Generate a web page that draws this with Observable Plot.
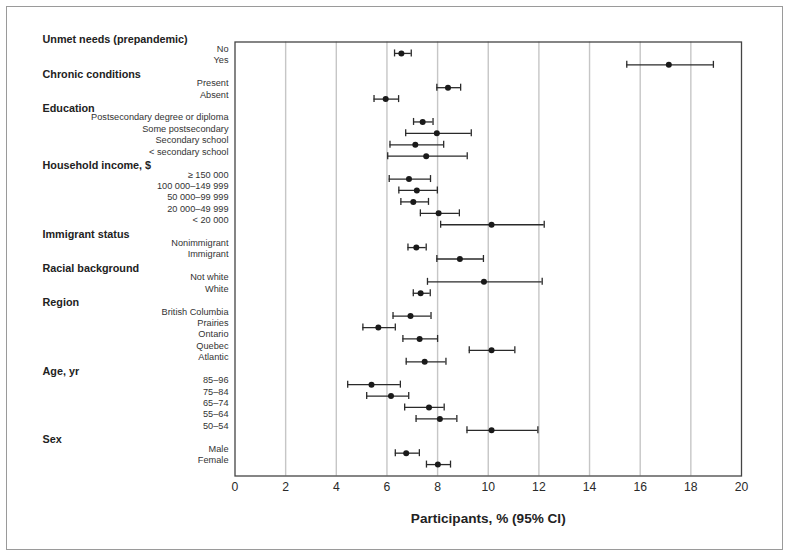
<!DOCTYPE html>
<html>
<head>
<meta charset="utf-8">
<script src="https://cdn.jsdelivr.net/npm/d3@7"></script>
<script src="https://cdn.jsdelivr.net/npm/@observablehq/plot@0.6"></script>
<style>
  html, body { margin: 0; padding: 0; background: #fff; }
  #wrap { position: relative; width: 791px; height: 559px; overflow: hidden; }
  #border { position: absolute; left: 6px; top: 6px; width: 775px; height: 542px; border: 1.5px solid #9a9a9a; pointer-events: none; }
  #chart { position: absolute; left: 0; top: 0; }
</style>
</head>
<body>
<div id="wrap"><div id="chart"></div><div id="border"></div></div>
<script>
// ---- data ----
const groupNames = [
  "Unmet needs (prepandemic)", "Chronic conditions", "Education", "Household income, $",
  "Immigrant status", "Racial background", "Region", "Age, yr", "Sex"
];
const groupSizes = [2, 2, 4, 5, 2, 2, 5, 5, 2];
const categories = [
  "No", "Yes",
  "Present", "Absent",
  "Postsecondary degree or diploma", "Some postsecondary", "Secondary school", "< secondary school",
  "≥ 150 000", "100 000–149 999", "50 000–99 999", "20 000–49 999", "< 20 000",
  "Nonimmigrant", "Immigrant",
  "Not white", "White",
  "British Columbia", "Prairies", "Ontario", "Quebec", "Atlantic",
  "85–96", "75–84", "65–74", "55–64", "50–54",
  "Male", "Female"
];
const estimates = [
  6.57, 17.13,
  8.41, 5.95,
  7.41, 7.97, 7.12, 7.55,
  6.87, 7.18, 7.04, 8.04, 10.13,
  7.16, 8.88,
  9.83, 7.33,
  6.93, 5.66, 7.29, 10.13, 7.49,
  5.39, 6.16, 7.66, 8.09, 10.13,
  6.76, 8.01
];
const lowerCI = [
  6.30, 15.47,
  7.97, 5.49,
  7.05, 6.74, 6.12, 6.03,
  6.09, 6.47, 6.55, 7.32, 8.12,
  6.83, 7.97,
  7.60, 7.04,
  6.24, 5.05, 6.63, 9.25, 6.76,
  4.45, 5.20, 6.70, 7.15, 9.16,
  6.33, 7.56
];
const upperCI = [
  6.96, 18.89,
  8.91, 6.46,
  7.82, 9.33, 8.24, 9.17,
  7.72, 7.99, 7.64, 8.86, 12.21,
  7.55, 9.81,
  12.13, 7.71,
  7.74, 6.33, 8.00, 11.05, 8.33,
  6.53, 6.86, 8.26, 8.76, 11.96,
  7.28, 8.51
];
const xTicks = [0, 2, 4, 6, 8, 10, 12, 14, 16, 18, 20];
const xLabel = "Participants, % (95% CI)";

// ---- build rows (header row, then its categories) ----
const headers = [];
const items = [];
const domain = [];
let k = 0;
groupNames.forEach((g, gi) => {
  const hk = "H" + gi;
  headers.push({key: hk, label: g});
  domain.push(hk);
  for (let j = 0; j < groupSizes[gi]; j++, k++) {
    const ck = "C" + k;
    items.push({key: ck, label: categories[k], est: estimates[k], lo: lowerCI[k], hi: upperCI[k]});
    domain.push(ck);
  }
});
domain.push("END");

const font = "'Liberation Sans', Arial, Helvetica, sans-serif";

const chart = Plot.plot({
  width: 791,
  height: 559,
  marginLeft: 234.5,
  marginRight: 50,
  marginTop: 41.5,
  marginBottom: 83.5,
  style: {fontFamily: font, background: "transparent", color: "#222"},
  x: {domain: [0, 20], ticks: xTicks},
  y: {type: "point", domain, padding: 0, round: false, axis: null},
  marks: [
    Plot.gridX(xTicks.filter(t => t > 0 && t < 20), {stroke: "#c6c6c6", strokeOpacity: 1, strokeWidth: 1.4}),
    Plot.frame({stroke: "#444", strokeWidth: 1.3}),
    Plot.axisX({ticks: xTicks, tickSize: 0, tickPadding: 6, fontSize: 12.2, label: null, fill: "#2a2a2a"}),
    Plot.text([xLabel], {frameAnchor: "bottom", text: d => d, dy: 46.5, fontWeight: "bold", fontSize: 13.6, fill: "#222"}),
    Plot.ruleY(items, {y: "key", x1: "lo", x2: "hi", stroke: "#2a2a2a", strokeWidth: 1.3}),
    Plot.ruleX(items, {x: "lo", y1: "key", y2: "key", insetTop: -3.5, insetBottom: -3.5, stroke: "#2a2a2a", strokeWidth: 1.3}),
    Plot.ruleX(items, {x: "hi", y1: "key", y2: "key", insetTop: -3.5, insetBottom: -3.5, stroke: "#2a2a2a", strokeWidth: 1.3}),
    Plot.dot(items, {x: "est", y: "key", r: 3, fill: "#1a1a1a", stroke: "none"}),
    Plot.text(items, {y: "key", text: "label", frameAnchor: "left", textAnchor: "end", dx: -6.5, dy: -4.5, fontSize: 9.2, fill: "#333"}),
    Plot.text(headers, {y: "key", text: "label", frameAnchor: "left", textAnchor: "start", dx: -192.5, dy: -2, fontSize: 10.8, fontWeight: "bold", fill: "#222"})
  ]
});
document.getElementById("chart").appendChild(chart);
</script>
</body>
</html>
